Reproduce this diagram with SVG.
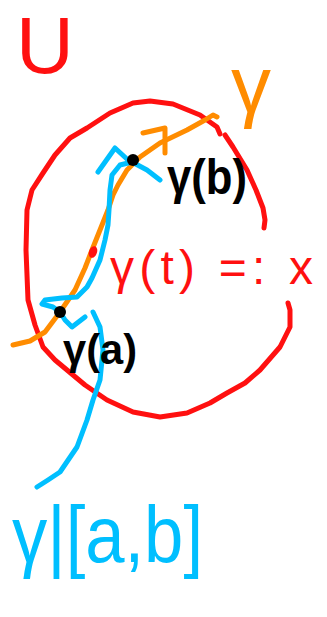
<svg xmlns="http://www.w3.org/2000/svg" width="327" height="617" viewBox="0 0 327 617">
<style>
.s{fill:none;stroke-width:5;stroke-linecap:round;stroke-linejoin:round}
.r{stroke:#ff1010}.o{stroke:#ff8c00}.b{stroke:#00bfff}.k{stroke:#000}
text{font-family:"Liberation Sans","DejaVu Sans",sans-serif}
</style>
<rect width="327" height="617" fill="#fff"/>
<g id="set-U">
<path class="s r" d="M220,134 L217,127 L200,115 L173,104 L150,101 L133,103 L110,113 L87,128 L70,138 L55,155 L43,173 L32,190 L27,210 L26,250 L28,300 L35,325 L43,347 L55,360 L67,370 L85,385 L107,400 L133,412 L160,417 L187,413 L210,403 L227,393 L245,383 L260,370 L280,347 L290,327 L290,310 L288,303"/>
<path class="s r" d="M225,135 L233,147 L247,170 L256,190 L263,208 L265,220 L264,228"/>
<text x="16" y="73" font-size="80" fill="#ff1010">U</text>
</g>
<g id="curve-gamma">
<path class="s o" d="M13,345 L30,341 L45,332 L60,312 L75,290 L85,268 L92,250 L100,230 L108,210 L113,195 L118,185 L127,170 L140,157 L160,143 L187,130 L205,120 L213,115 L217,117"/>
<path class="s o" d="M143,133 L165,128 L165,153"/>
<text x="231" y="112" font-size="80" fill="#ff8c00">γ</text>
</g>
<g id="restriction">
<path class="s b" d="M160,180 L147,170 L132,162 L120,165 L112,175 L110,190 L109,210 L108,225 L105,240 L100,260 L92,278 L87,287 L77,297 L62,298 L45,300 L42,304 L53,307 L60,312 L65,320 L72,327 L85,317"/>
<path class="s b" d="M98,172 L115,148 L128,160"/>
<path class="s b" d="M93,312 L100,327 L103,350 L100,380 L93,400 L87,420 L77,447 L60,472 L48,480 L37,487"/>
<text x="12" y="562" font-size="80" fill="#00bfff" textLength="191" lengthAdjust="spacingAndGlyphs">γ|[a,b]</text>
</g>
<g id="point-b">
<circle cx="133" cy="160" r="6" fill="#000"/>
<text x="167" y="194" font-size="50" font-weight="bold" fill="#000" textLength="80" lengthAdjust="spacingAndGlyphs">γ(b)</text>
</g>
<g id="point-a">
<circle cx="60" cy="312" r="6" fill="#000"/>
<text x="63" y="364" font-size="42" font-weight="bold" fill="#000" textLength="74" lengthAdjust="spacingAndGlyphs">γ(a)</text>
</g>
<g id="point-x">
<ellipse cx="93" cy="252" rx="4" ry="6" transform="rotate(20 93 252)" fill="#ff1010"/>
<text x="110" y="284" font-size="48" fill="#ff1010" textLength="203" lengthAdjust="spacing">γ(t) =: x</text>
</g>
</svg>
